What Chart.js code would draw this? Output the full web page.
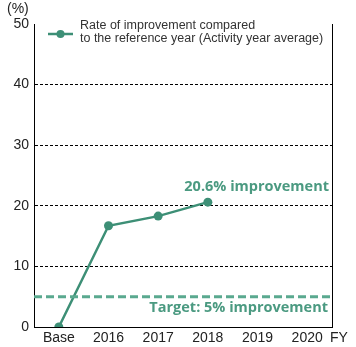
<!DOCTYPE html>
<html>
<head>
<meta charset="utf-8">
<script src="https://cdn.jsdelivr.net/npm/chart.js@4"></script>
<style>
  html, body { margin: 0; padding: 0; background: #ffffff; }
  #wrap { width: 356px; height: 347px; position: relative; }
</style>
</head>
<body>
<div id="wrap"><canvas id="chart"></canvas></div>
<script>
// Improvement rate vs. the reference year (%)
const years = ['Base', '2016', '2017', '2018', '2019', '2020'];
const rates = [0, 16.7, 18.3, 20.6, null, null];
const yTicks = [0, 10, 20, 30, 40, 50];
const targetRate = 5;

const LINE_GREEN = '#3d8f76';
const TARGET_GREEN = '#5aa98f';
const TEXT_GREEN = '#4b9a81';
const SANS = "'Liberation Sans', Arial, sans-serif";
const BOLD = "'Open Sans', 'Noto Sans', sans-serif";

const overlay = {
  id: 'overlay',
  afterDraw(chart) {
    const { ctx, chartArea: a, scales } = chart;
    const y = scales.y;
    ctx.save();

    // right frame line
    ctx.strokeStyle = '#000';
    ctx.lineWidth = 1;
    ctx.beginPath();
    ctx.moveTo(a.right + 0.5, a.top);
    ctx.lineTo(a.right + 0.5, a.bottom);
    ctx.stroke();

    // target line
    const ty = y.getPixelForValue(targetRate);
    ctx.strokeStyle = TARGET_GREEN;
    ctx.lineWidth = 3;
    ctx.setLineDash([8, 4]);
    ctx.beginPath();
    ctx.moveTo(a.left, ty);
    ctx.lineTo(a.right, ty);
    ctx.stroke();
    ctx.setLineDash([]);

    // annotations
    ctx.fillStyle = TEXT_GREEN;
    ctx.font = 'bold 14.5px ' + BOLD;
    ctx.textAlign = 'right';
    ctx.textBaseline = 'middle';
    ctx.fillText('Target: 5% improvement', a.right - 4, ty + 11);
    const last = rates[3];
    ctx.fillText(last + '% improvement', a.right - 3, y.getPixelForValue(last) - 15);

    // unit and FY labels
    ctx.fillStyle = '#222';
    ctx.font = '14px ' + SANS;
    ctx.textAlign = 'left';
    ctx.fillText('(%)', 7, 9);
    ctx.fillText('FY', 330, a.bottom + 11);

    // legend
    const ly = a.top + 10;
    ctx.strokeStyle = LINE_GREEN;
    ctx.lineWidth = 2.5;
    ctx.beginPath();
    ctx.moveTo(48, ly);
    ctx.lineTo(73, ly);
    ctx.stroke();
    ctx.fillStyle = LINE_GREEN;
    ctx.beginPath();
    ctx.arc(60.5, ly, 4, 0, Math.PI * 2);
    ctx.fill();
    ctx.fillStyle = '#333';
    ctx.font = '12.5px ' + SANS;
    ctx.fillText('Rate of improvement compared', 80, a.top + 2);
    ctx.fillText('to the reference year (Activity year average)', 80, a.top + 15);

    ctx.restore();
  }
};

new Chart(document.getElementById('chart'), {
  type: 'line',
  data: {
    labels: years,
    datasets: [{
      data: rates,
      borderColor: LINE_GREEN,
      backgroundColor: LINE_GREEN,
      borderWidth: 2.5,
      pointRadius: 4.5,
      pointBackgroundColor: LINE_GREEN,
      pointBorderWidth: 0,
      tension: 0,
      spanGaps: false
    }]
  },
  options: {
    responsive: true,
    maintainAspectRatio: false,
    animation: false,
    layout: { padding: { top: 24, right: 24, left: 0, bottom: 0 } },
    plugins: { legend: { display: false }, tooltip: { enabled: false } },
    scales: {
      x: {
        offset: true,
        grid: { display: false, drawTicks: false },
        border: { color: '#000', width: 1 },
        ticks: { color: '#222', font: { family: SANS, size: 14 }, padding: 3 },
        afterFit: (s) => { s.height = 20; }
      },
      y: {
        min: 0,
        max: 50,
        afterBuildTicks: (s) => { s.ticks = yTicks.map(v => ({ value: v })); },
        grid: {
          drawTicks: false,
          color: (c) => (c.tick.value === 0 || c.tick.value === 50) ? 'rgba(0,0,0,0)' : '#000',
          lineWidth: 1
        },
        // dash here applies to the gridlines
        border: { color: '#000', width: 1, dash: [3, 2] },
        ticks: { color: '#222', font: { family: SANS, size: 14 }, padding: 5 },
        afterFit: (s) => { s.width = 34; }
      }
    }
  },
  plugins: [overlay]
});
</script>
</body>
</html>
